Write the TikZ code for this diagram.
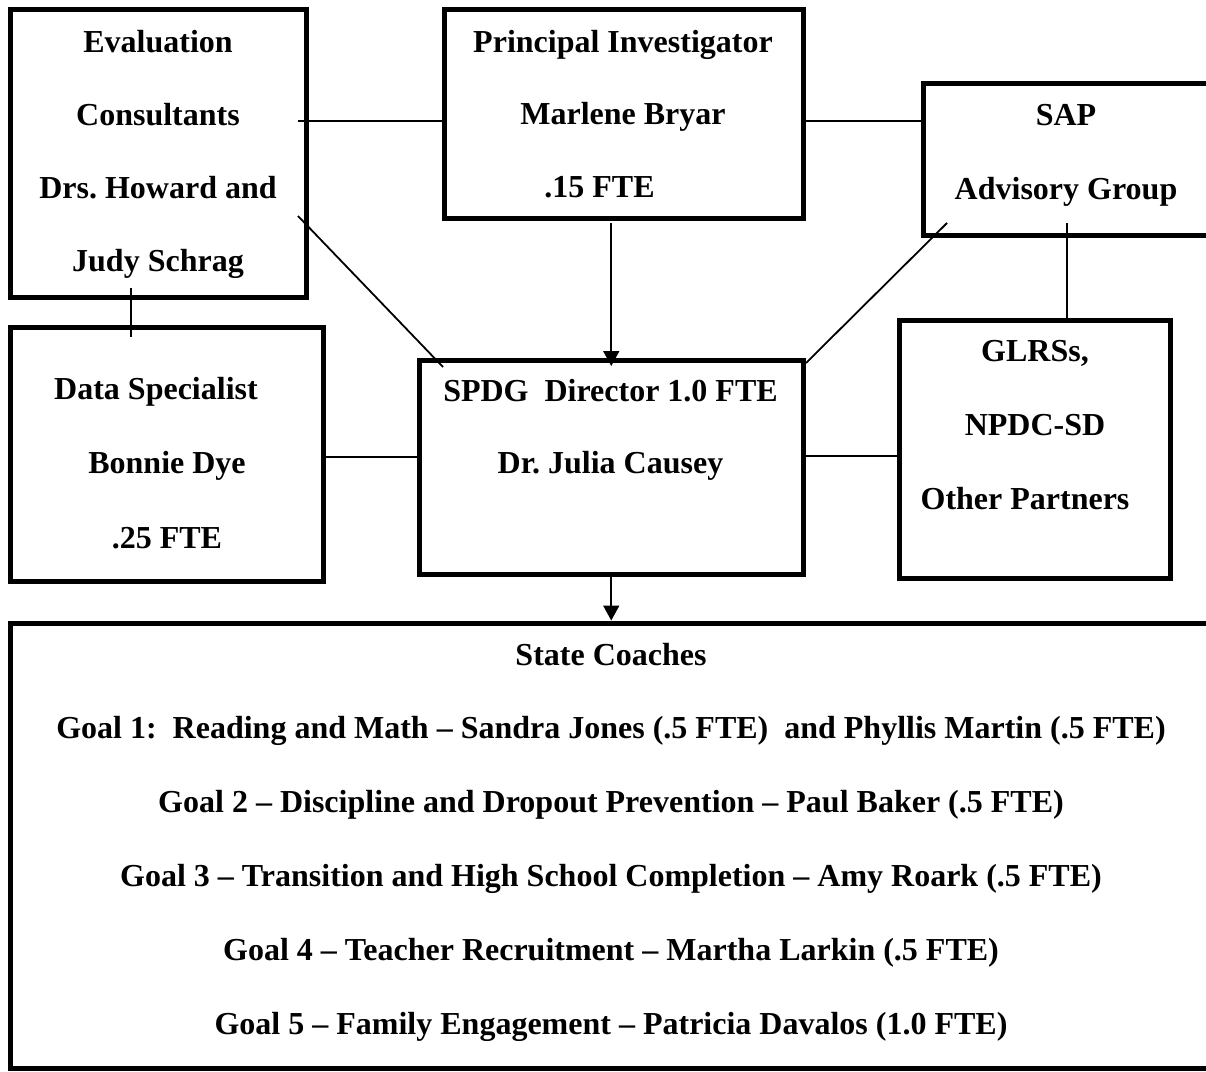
\documentclass[tikz,border=0pt]{standalone}
\usepackage{fontspec}
\setmainfont{Liberation Serif}
\usetikzlibrary{calc,arrows.meta}

\tikzset{
	box/.style={draw, line width=5pt, inner sep=0pt, outer sep=0pt, anchor=north west},
	txt/.style={align=center, anchor=base, inner sep=0pt, font=\fontsize{32}{#1}\selectfont\bfseries\frenchspacing},
	txt/.default=73,
	link/.style={line width=1.8pt},
	tip/.style={-{Triangle[width=16pt, length=15pt]}}
}

\begin{document}
\begin{tikzpicture}[x=1pt, y=-1pt]
			%%%%% START %%%%%
			
			\useasboundingbox (0, 0) rectangle (1206, 1071);
			
			\node[box, minimum width=295.5pt, minimum height=287.5pt] (eval) at (10.5, 9.5) {};
			\node[box, minimum width=359pt, minimum height=208.5pt] (pi) at (444, 9.5) {};
			\node[box, minimum width=288pt, minimum height=152.5pt] (sap) at (923, 83) {};
			\node[box, minimum width=313pt, minimum height=253.5pt] (data) at (10.5, 327.5) {};
			\node[box, minimum width=383.5pt, minimum height=214.5pt] (spdg) at (419.5, 360) {};
			\node[box, minimum width=271pt, minimum height=258pt] (glrs) at (899.5, 320) {};
			\node[box, minimum width=1201pt, minimum height=444.5pt] (coaches) at (10.5, 623.5) {};
			
			% text nodes sit on the baseline of their last line
			\node[txt] (eval-txt) at (158, 271) {Evaluation\\Consultants\\Drs. Howard and\\Judy Schrag};
			\node[txt=72.5] (pi-txt) at (623, 197) {Principal Investigator\\Marlene Bryar\\.15 FTE\hspace*{47pt}};
			\node[txt=74] (sap-txt) at (1066, 199) {SAP\\Advisory Group};
			\node[txt=74.5] (data-txt) at (167, 548) {Data Specialist\hspace*{22pt}\\Bonnie Dye\\.25 FTE};
			\node[txt=72] (spdg-txt) at (610.5, 473) {SPDG \ Director 1.0 FTE\\Dr. Julia Causey};
			\node[txt=74] (glrs-txt) at (1035, 509) {GLRSs,\\NPDC-SD\\Other Partners\hspace*{20pt}};
			\node[txt=73.8] (coaches-txt) at (611, 1034) {State Coaches\\
				Goal 1: \ Reading and Math – Sandra Jones (.5 FTE) \ and Phyllis Martin (.5 FTE)\\
				Goal 2 – Discipline and Dropout Prevention – Paul Baker (.5 FTE)\\
				Goal 3 – Transition and High School Completion – Amy Roark (.5 FTE)\\
				Goal 4 – Teacher Recruitment – Martha Larkin (.5 FTE)\\
				Goal 5 – Family Engagement – Patricia Davalos (1.0 FTE)};
			
			\draw[link] ($(eval.north east)+(-8, 111.5)$) -- ($(pi.north west)+(0, 111.5)$);
			\draw[link] ($(pi.north east)+(0, 111.5)$) -- ($(sap.north west)+(0, 38)$);
			\draw[link] ($(eval.north east)+(-8, 206.5)$) -- ($(spdg.north west)+(23.5, 7)$);
			\draw[link] ($(sap.south west)+(24, -12.5)$) -- ($(spdg.north east)+(3, 3)$);
			\draw[link] ($(eval.south west)+(120.5, -9)$) -- ($(data.north west)+(120.5, 9.5)$);
			\draw[link] ($(sap.south west)+(144, -12.5)$) -- ($(glrs.north west)+(167.5, 0)$);
			\draw[link] ($(data.north east)+(0, 129.5)$) -- ($(spdg.north west)+(0, 97)$);
			\draw[link] ($(spdg.north east)+(0, 96)$) -- ($(glrs.north west)+(0, 136)$);
			
			\draw[link, tip] ($(pi.south -| spdg.north)+(0, 5)$) -- ($(spdg.north)+(0, 6)$);
			\draw[link, tip] (spdg.south) -- ($(spdg.south |- coaches.north)+(0, -3)$);
			
			%%%%% END %%%%%
\end{tikzpicture}
\end{document}
